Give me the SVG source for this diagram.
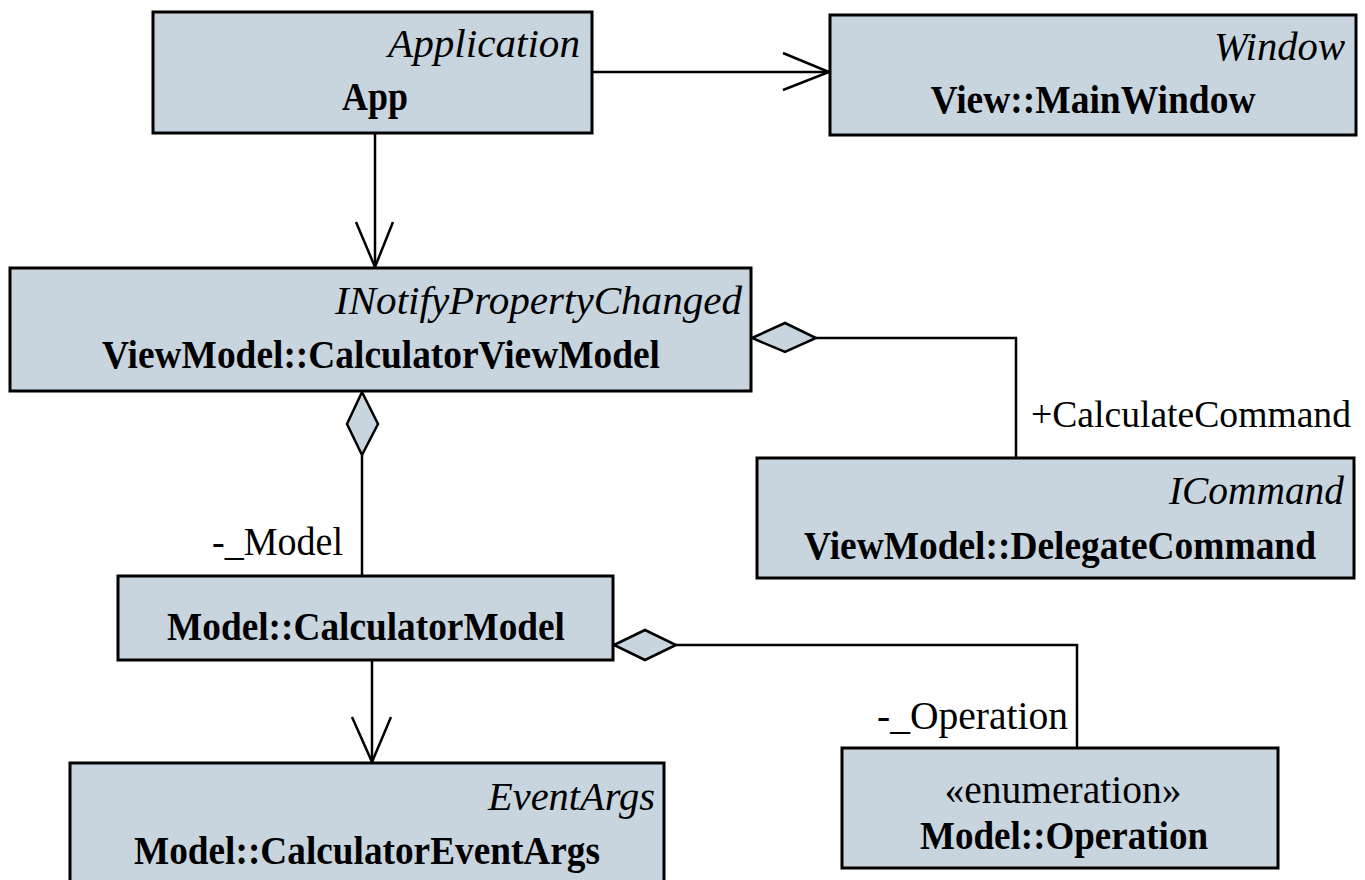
<svg xmlns="http://www.w3.org/2000/svg" width="1365" height="880" viewBox="0 0 1365 880" font-family="Liberation Serif, Times New Roman, Times, DejaVu Serif, serif">
<style>
.box{fill:#c8d5de;stroke:#000;stroke-width:3}
.it{font-size:40px;font-style:italic;text-anchor:end}
.b{font-size:41px;font-weight:bold;text-anchor:middle}
.r{font-size:40px}
.ln{fill:none;stroke:#000;stroke-width:2.5}
.dia{fill:#c8d5de;stroke:#000;stroke-width:2.5;stroke-linejoin:miter}
</style>
<rect width="1365" height="880" fill="#fff"/>
<g id="connectors">
  <line class="ln" x1="592" y1="72" x2="829" y2="72"/>
  <polyline class="ln" points="783,53 829,72 783,90"/>
  <line class="ln" x1="375" y1="133" x2="375" y2="267"/>
  <polyline class="ln" points="356,222 375,267 393,222"/>
  <polyline class="ln" points="816,338 1016,338 1016,458"/>
  <polygon class="dia" points="752,338 785,323 816,338 785,352"/>
  <line class="ln" x1="362" y1="455" x2="362" y2="576"/>
  <polygon class="dia" points="362,392 378,424 362,455 347,424"/>
  <polyline class="ln" points="676,645 1077,645 1077,748"/>
  <polygon class="dia" points="614,645 645,630 676,645 645,660"/>
  <line class="ln" x1="372" y1="660" x2="372" y2="762"/>
  <polyline class="ln" points="352,717 372,762 391,717"/>
  <text class="r" x="1031" y="427" font-size="38" style="font-size:38px" textLength="320" lengthAdjust="spacingAndGlyphs">+CalculateCommand</text>
  <text class="r" x="212" y="555" textLength="131" lengthAdjust="spacingAndGlyphs">-_Model</text>
  <text class="r" x="877" y="729" textLength="191" lengthAdjust="spacingAndGlyphs">-_Operation</text>
</g>
<g id="App">
  <rect class="box" x="153" y="12" width="439" height="121"/>
  <text class="it" x="580" y="57" textLength="192" lengthAdjust="spacingAndGlyphs">Application</text>
  <text class="b" x="375" y="110" textLength="66" lengthAdjust="spacingAndGlyphs">App</text>
</g>
<g id="MainWindow">
  <rect class="box" x="830" y="15" width="526" height="120"/>
  <text class="it" x="1345" y="60" textLength="131" lengthAdjust="spacingAndGlyphs">Window</text>
  <text class="b" x="1093" y="113" textLength="325" lengthAdjust="spacingAndGlyphs">View::MainWindow</text>
</g>
<g id="CalculatorViewModel">
  <rect class="box" x="10" y="268" width="741" height="123"/>
  <text class="it" x="742" y="314" textLength="407" lengthAdjust="spacingAndGlyphs">INotifyPropertyChanged</text>
  <text class="b" x="381" y="368" textLength="558" lengthAdjust="spacingAndGlyphs">ViewModel::CalculatorViewModel</text>
</g>
<g id="DelegateCommand">
  <rect class="box" x="757" y="458" width="597" height="120"/>
  <text class="it" x="1344" y="504" textLength="175" lengthAdjust="spacingAndGlyphs">ICommand</text>
  <text class="b" x="1060" y="559" textLength="512" lengthAdjust="spacingAndGlyphs">ViewModel::DelegateCommand</text>
</g>
<g id="CalculatorModel">
  <rect class="box" x="118" y="576" width="495" height="84"/>
  <text class="b" x="366" y="640" textLength="398" lengthAdjust="spacingAndGlyphs">Model::CalculatorModel</text>
</g>
<g id="CalculatorEventArgs">
  <rect class="box" x="70" y="763" width="594" height="130"/>
  <text class="it" x="655" y="810" textLength="167" lengthAdjust="spacingAndGlyphs">EventArgs</text>
  <text class="b" x="367" y="864" textLength="466" lengthAdjust="spacingAndGlyphs">Model::CalculatorEventArgs</text>
</g>
<g id="Operation">
  <rect class="box" x="842" y="748" width="436" height="120"/>
  <text class="r" x="1063" y="803" text-anchor="middle" textLength="237" lengthAdjust="spacingAndGlyphs">«enumeration»</text>
  <text class="b" x="1064" y="849" textLength="288" lengthAdjust="spacingAndGlyphs">Model::Operation</text>
</g>
</svg>
